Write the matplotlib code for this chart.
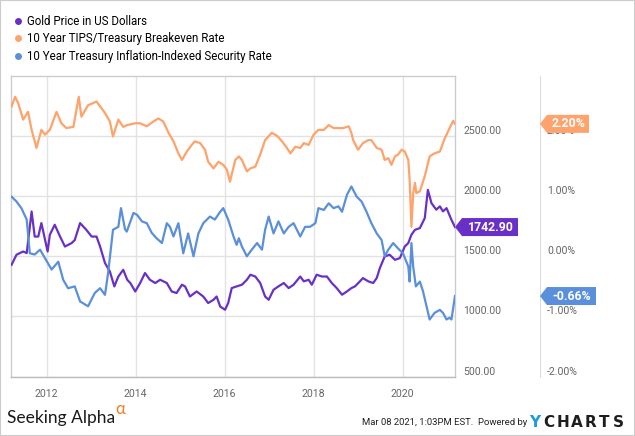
#!/usr/bin/env python3
"""Gold price vs. 10y breakeven and 10y real yield, YCharts style (2011-2021)."""

import matplotlib
matplotlib.use("Agg")
import matplotlib.pyplot as plt
from matplotlib.lines import Line2D
from matplotlib.patches import Polygon, Rectangle
from matplotlib.ticker import FuncFormatter
from matplotlib.transforms import IdentityTransform

# --- data (dates as decimal years) ---
GOLD_T = [2011.21, 2011.32, 2011.47, 2011.55, 2011.66, 2011.73, 2011.81, 2011.88,
          2012.02, 2012.07, 2012.18, 2012.30, 2012.41, 2012.56, 2012.63, 2012.75,
          2012.89, 2013.01, 2013.12, 2013.20, 2013.31, 2013.42, 2013.52, 2013.61,
          2013.72, 2013.81, 2013.88, 2013.99, 2014.10, 2014.21, 2014.32, 2014.44,
          2014.55, 2014.70, 2014.81, 2014.92, 2015.04, 2015.11, 2015.22, 2015.37,
          2015.52, 2015.63, 2015.75, 2015.82, 2015.90, 2016.01, 2016.08, 2016.16,
          2016.27, 2016.39, 2016.50, 2016.58, 2016.69, 2016.80, 2016.91, 2016.99,
          2017.10, 2017.21, 2017.33, 2017.44, 2017.55, 2017.70, 2017.78, 2017.89,
          2017.96, 2018.07, 2018.19, 2018.30, 2018.41, 2018.52, 2018.64, 2018.75,
          2018.85, 2018.93, 2019.04, 2019.11, 2019.23, 2019.34, 2019.42, 2019.49,
          2019.60, 2019.71, 2019.83, 2019.94, 2020.05, 2020.13, 2020.20, 2020.28,
          2020.39, 2020.50, 2020.57, 2020.65, 2020.76, 2020.84, 2020.91, 2020.99,
          2021.10, 2021.18]
GOLD = [1430, 1513, 1540, 1527, 1872, 1664, 1664, 1776,
        1540, 1679, 1762, 1664, 1581, 1610, 1635, 1776,
        1720, 1664, 1664, 1581, 1444, 1374, 1250, 1332,
        1388, 1305, 1278, 1208, 1278, 1361, 1305, 1278,
        1305, 1278, 1208, 1195, 1264, 1250, 1166, 1208,
        1166, 1112, 1139, 1166, 1083, 1056, 1112, 1236,
        1250, 1264, 1305, 1347, 1332, 1278, 1166, 1139,
        1222, 1250, 1278, 1236, 1264, 1332, 1292, 1305,
        1264, 1347, 1332, 1332, 1278, 1236, 1181, 1208,
        1236, 1250, 1291, 1319, 1292, 1278, 1319, 1402,
        1499, 1513, 1471, 1485, 1581, 1610, 1679, 1720,
        1734, 1817, 2052, 1942, 1887, 1915, 1873, 1900,
        1803, 1742.90]

BREAKEVEN_T = [2011.21, 2011.29, 2011.36, 2011.47, 2011.58, 2011.66, 2011.77, 2011.88,
               2011.96, 2012.07, 2012.22, 2012.33, 2012.44, 2012.60, 2012.72, 2012.78,
               2012.93, 2013.12, 2013.31, 2013.42, 2013.49, 2013.61, 2013.72, 2013.81,
               2013.99, 2014.10, 2014.25, 2014.40, 2014.51, 2014.62, 2014.74, 2014.85,
               2014.96, 2015.04, 2015.15, 2015.26, 2015.33, 2015.45, 2015.56, 2015.63,
               2015.75, 2015.86, 2015.97, 2016.05, 2016.12, 2016.24, 2016.32, 2016.39,
               2016.50, 2016.58, 2016.69, 2016.80, 2016.91, 2017.06, 2017.18, 2017.29,
               2017.40, 2017.48, 2017.59, 2017.70, 2017.78, 2017.89, 2018.00, 2018.11,
               2018.23, 2018.34, 2018.45, 2018.56, 2018.67, 2018.79, 2018.85, 2018.89,
               2019.00, 2019.11, 2019.23, 2019.30, 2019.42, 2019.53, 2019.60, 2019.68,
               2019.75, 2019.83, 2019.90, 2019.98, 2020.05, 2020.13, 2020.16, 2020.20,
               2020.24, 2020.28, 2020.31, 2020.39, 2020.50, 2020.61, 2020.72, 2020.84,
               2020.95, 2021.06, 2021.14, 2021.18]
BREAKEVEN = [2.49, 2.65, 2.54, 2.27, 2.40, 2.10, 1.80, 2.10,
             2.02, 2.10, 2.40, 2.21, 2.13, 2.15, 2.65, 2.32,
             2.51, 2.57, 2.38, 2.24, 1.99, 2.27, 2.15, 2.18,
             2.21, 2.21, 2.16, 2.24, 2.29, 2.24, 2.05, 1.91,
             1.71, 1.60, 1.74, 1.85, 1.91, 1.88, 1.77, 1.57,
             1.46, 1.57, 1.52, 1.44, 1.24, 1.60, 1.66, 1.60,
             1.41, 1.46, 1.49, 1.69, 1.93, 2.05, 2.00, 1.91,
             1.80, 1.71, 1.82, 1.80, 1.88, 1.85, 2.02, 2.10,
             2.10, 2.18, 2.13, 2.13, 2.13, 2.16, 2.05, 1.93,
             1.77, 1.88, 1.93, 1.93, 1.80, 1.77, 1.60, 1.63,
             1.52, 1.66, 1.69, 1.77, 1.74, 1.60, 1.27, 0.49,
             1.05, 1.22, 1.05, 1.08, 1.33, 1.66, 1.71, 1.74,
             1.96, 2.13, 2.25, 2.20]

REAL_T = [2011.21, 2011.32, 2011.43, 2011.55, 2011.62, 2011.73, 2011.85, 2011.96,
          2012.11, 2012.26, 2012.37, 2012.48, 2012.63, 2012.75, 2012.93, 2013.08,
          2013.20, 2013.31, 2013.38, 2013.49, 2013.61, 2013.67, 2013.76, 2013.80,
          2013.95, 2014.03, 2014.14, 2014.25, 2014.36, 2014.47, 2014.59, 2014.70,
          2014.77, 2014.85, 2014.96, 2015.07, 2015.18, 2015.30, 2015.41, 2015.52,
          2015.67, 2015.78, 2015.90, 2015.97, 2016.08, 2016.20, 2016.27, 2016.32,
          2016.39, 2016.50, 2016.61, 2016.73, 2016.84, 2016.91, 2016.99, 2017.10,
          2017.21, 2017.33, 2017.44, 2017.55, 2017.70, 2017.81, 2017.92, 2018.04,
          2018.11, 2018.23, 2018.34, 2018.45, 2018.56, 2018.64, 2018.75, 2018.85,
          2018.97, 2019.08, 2019.19, 2019.30, 2019.42, 2019.53, 2019.60, 2019.68,
          2019.79, 2019.90, 2020.01, 2020.13, 2020.16, 2020.20, 2020.24, 2020.30,
          2020.39, 2020.46, 2020.54, 2020.61, 2020.72, 2020.84, 2020.91, 2020.99,
          2021.06, 2021.10, 2021.18]
REAL = [0.99, 0.91, 0.80, 0.61, 0.05, 0.03, 0.11, -0.03,
        -0.22, -0.09, -0.39, -0.53, -0.50, -0.75, -0.83, -0.61,
        -0.53, -0.64, -0.28, 0.44, 0.49, 0.80, 0.45, 0.41,
        0.72, 0.69, 0.58, 0.55, 0.39, 0.30, 0.22, 0.55,
        0.49, 0.33, 0.55, 0.05, 0.38, 0.00, 0.38, 0.55,
        0.66, 0.61, 0.74, 0.80, 0.61, 0.33, 0.19, 0.30,
        0.16, 0.00, 0.11, 0.22, 0.11, 0.44, 0.66, 0.38,
        0.58, 0.38, 0.49, 0.55, 0.33, 0.49, 0.49, 0.55,
        0.80, 0.77, 0.88, 0.80, 0.83, 0.74, 1.02, 1.16,
        0.99, 0.91, 0.74, 0.55, 0.38, 0.27, 0.00, 0.11,
        0.22, 0.13, 0.05, -0.17, -0.42, 0.22, -0.17, -0.50,
        -0.42, -0.58, -0.83, -1.05, -0.94, -0.89, -0.94, -1.05,
        -1.02, -1.05, -0.66]

SERIES_NAMES = ["Gold Price in US Dollars",
                "10 Year TIPS/Treasury Breakeven Rate",
                "10 Year Treasury Inflation-Indexed Security Rate"]
YEAR_TICKS = [2012, 2014, 2016, 2018, 2020]
GOLD_TICKS = [500, 1000, 1500, 2000, 2500]
PCT_TICKS = [-2, -1, 0, 1, 2]

PURPLE = "#6930c8"
ORANGE = "#ffa26b"
BLUE = "#5a8fdb"
LABEL_GREY = "#666666"
FONT = ["Roboto", "DejaVu Sans"]

W, H = 635, 436
plt.rcParams["font.family"] = FONT


def add_tag(fig, trans, xy, text, color, width):
    """Price tag pointing left at xy (given in trans coordinates)."""
    px, py = trans.transform(xy)
    half, notch = 9, 7
    verts = [(px, py), (px + notch, py + half), (px + width, py + half),
             (px + width, py - half), (px + notch, py - half)]
    fig.add_artist(Polygon(verts, closed=True, transform=IdentityTransform(),
                           facecolor=color, edgecolor="none", zorder=10))
    fig.text(px + (notch + width) / 2 + 0.5, py, text, transform=IdentityTransform(),
             ha="center", va="center", color="white", fontsize=8.8,
             fontweight="bold", zorder=11)


fig = plt.figure(figsize=(W / 100, H / 100), dpi=100)
ax = fig.add_axes([10.7 / W, (H - 376.7) / H, 444.3 / W, 301.0 / H])
ax2 = ax.twinx()

ax.plot(GOLD_T, GOLD, color=PURPLE, lw=1.6, zorder=3)
ax2.plot(BREAKEVEN_T, BREAKEVEN, color=ORANGE, lw=1.6, zorder=3)
ax2.plot(REAL_T, REAL, color=BLUE, lw=1.6, zorder=3)

ax.set_xlim(2011.19, 2021.18)
ax.set_ylim(500, 3000)
ax2.set_ylim(-2, 3)

ax.set_xticks(YEAR_TICKS)
ax.set_xticklabels([str(y) for y in YEAR_TICKS])
ax.set_yticks(GOLD_TICKS)
ax.yaxis.set_major_formatter(FuncFormatter(lambda v, _: f"{v:.2f}"))
ax2.set_yticks(PCT_TICKS)
ax2.yaxis.set_major_formatter(FuncFormatter(lambda v, _: f"{v:.2f}%"))

ax.yaxis.tick_right()
ax.grid(True, color="#e2e2e2", lw=1)
ax.set_axisbelow(True)
ax.tick_params(axis="x", length=0, pad=9, labelsize=7.6, labelcolor=LABEL_GREY)
ax.tick_params(axis="y", length=0, pad=6, labelsize=7.6, labelcolor=LABEL_GREY)
ax2.tick_params(axis="y", length=0, pad=5, labelsize=7.6, labelcolor=LABEL_GREY)

for sp in ax.spines.values():
    sp.set_color("#cccccc")
    sp.set_linewidth(1)
ax.spines["bottom"].set_color("#bbbbbb")
for name in ("top", "bottom", "left"):
    ax2.spines[name].set_visible(False)
ax2.spines["right"].set_position(("axes", 529.3 / 444.3))
ax2.spines["right"].set_color("#dddddd")

for lab in ax.get_yticklabels() + ax2.get_yticklabels():
    lab.set_verticalalignment("bottom")

# legend
handles = [Line2D([], [], ls="none", marker="o", ms=5, mec="none", mfc=c)
           for c in (PURPLE, ORANGE, BLUE)]
fig.legend(handles, SERIES_NAMES, loc="upper left", bbox_to_anchor=(15 / W, 1 - 15 / H),
           frameon=False, fontsize=8.3, handlelength=0.6, handletextpad=0.45,
           labelspacing=0.38, borderpad=0, borderaxespad=0)

# last-value tags
add_tag(fig, ax.get_yaxis_transform(), (1.0, GOLD[-1]), f"{GOLD[-1]:.2f}", PURPLE, 63)
add_tag(fig, ax2.get_yaxis_transform(), (529.3 / 444.3, BREAKEVEN[-1]),
        f"{BREAKEVEN[-1]:.2f}%", ORANGE, 49)
add_tag(fig, ax2.get_yaxis_transform(), (529.3 / 444.3, REAL[-1]),
        f"{REAL[-1]:.2f}%", BLUE, 56)

# footer
fig.text(7 / W, (H - 423.3) / H, "Seeking Alpha", fontsize=12.5, color="#1a1a1a",
         family=["Lato", "DejaVu Sans"], va="baseline")
fig.text(115 / W, (H - 414) / H, "\u03b1", fontsize=12, color="#f47b20",
         family=["Lato", "DejaVu Sans"], va="baseline")
fig.text(527 / W, (H - 425) / H, "Mar 08 2021, 1:03PM EST.  Powered by",
         fontsize=6.8, color="#222222", ha="right", va="baseline")
for i, ch in enumerate("YCHARTS"):
    fig.text((535 + i * 13.9) / W, (H - 427.3) / H, ch, fontsize=11,
             fontweight="bold", ha="center", va="baseline",
             family=["DejaVu Sans"],
             color="#1b9be0" if i == 0 else "#1e1e1e")

# outer frame
fig.add_artist(Rectangle((0, 0), 1, 1, transform=fig.transFigure, fill=False,
                         edgecolor="#cccccc", lw=1.5))

fig.savefig("out.png", dpi=100)
